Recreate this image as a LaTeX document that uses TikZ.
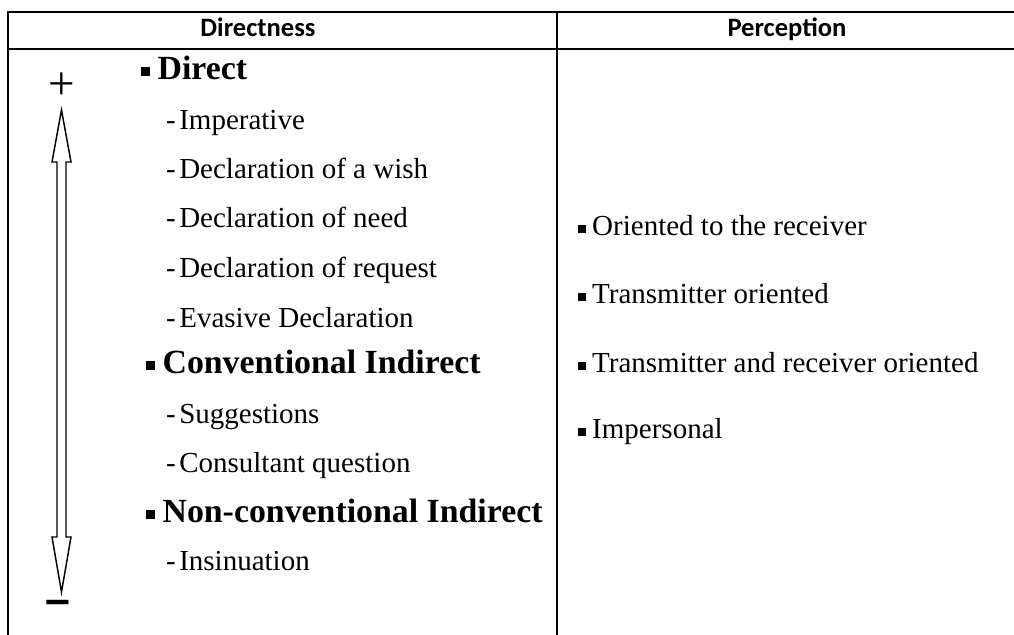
\documentclass[tikz,border=0pt]{standalone}
\usepackage{fontspec}
\setmainfont{Liberation Serif}
\newfontfamily\hdrfont{Carlito}
\newfontfamily\signfont{Liberation Sans}
\usetikzlibrary{positioning,calc}

% small square bullet as in the source table
\newcommand{\sqbul}{\rule[0.08em]{0.27em}{0.27em}\hspace{0.22em}}
\newcommand{\dashitem}{-\kern1.5pt}

\begin{document}
\begin{tikzpicture}[
    x=0.41379pt, y=-0.41379pt,
    every node/.style={inner sep=0pt, outer sep=0pt},
    gridline/.style={line width=0.85pt, black},
    header/.style={font=\hdrfont\fontsize{11}{13}\selectfont\bfseries, anchor=base},
    group/.style={font=\fontsize{14}{16}\selectfont\bfseries, anchor=base west},
    item/.style={font=\fontsize{12}{14}\selectfont, anchor=base west},
    hollowarrow/.style={line width=0.6pt, black, fill=white, line join=miter}
]

% frame of the table
\useasboundingbox (0,0) rectangle (1014,634);
\draw[gridline] (8,640) -- (8,12) -- (1020,12);
\draw[gridline] (8,49) -- (1020,49);
\draw[gridline] (557,12) -- (557,640);

% header row
\node[header] (hdir) at (258,37) {Directness};
\node[header] (hper) at (787,37) {Perception};

% left column
\node[group] (direct) at (141,79) {\sqbul Direct};
\node[item] (imper) at (166,130) {\dashitem Imperative};
\node[item] (wish) at (166,178) {\dashitem Declaration of a wish};
\node[item] (need) at (166,227) {\dashitem Declaration of need};
\node[item] (request) at (166,277) {\dashitem Declaration of request};
\node[item] (evasive) at (166,327) {\dashitem Evasive Declaration};
\node[group] (conv) at (146,373) {\sqbul Conventional Indirect};
\node[item] (suggest) at (166,423) {\dashitem Suggestions};
\node[item] (consult) at (166,472) {\dashitem Consultant question};
\node[group] (nonconv) at (146,522) {\sqbul Non-conventional Indirect};
\node[item] (insin) at (166,570) {\dashitem Insinuation};

% scale of directness
\node[font=\fontsize{19.5}{20}\selectfont] (plus) at (62,86) {+};
\node[font=\signfont\fontsize{18.5}{20}\selectfont\bfseries] (minus) at (57.5,607) {\textendash};
\coordinate (uptip) at (61.5,110);
\coordinate (downtip) at (61.5,592);
\draw[hollowarrow] (uptip) -- ++(9.5,52) -- ++(-5,0) -- ($(downtip)+(4.5,-55)$)
    -- ++(5,0) -- (downtip) -- ++(-9.5,-55) -- ++(5,0)
    -- ($(uptip)+(-4.5,52)$) -- ++(-5,0) -- cycle;

% right column
\node[item] (recv) at (578,235) {\sqbul Oriented to the receiver};
\node[item] (trans) at (578,303) {\sqbul Transmitter oriented};
\node[item] (both) at (578,372) {\sqbul Transmitter and receiver oriented};
\node[item] (impers) at (578,438) {\sqbul Impersonal};

\end{tikzpicture}
\end{document}
